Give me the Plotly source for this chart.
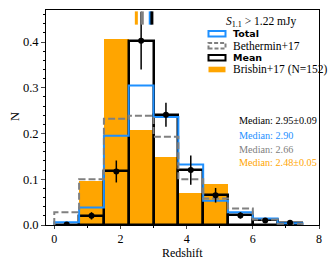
import plotly.graph_objects as go

# ---- data ----
bin_edges = [0, 0.75, 1.5, 2.25, 3.0, 3.75, 4.5, 5.25, 6.0, 6.75, 7.5]
total_vals = [0.006, 0.038, 0.195, 0.305, 0.236, 0.132, 0.053, 0.028, 0.014, 0.004]
bethermin_vals = [0.028, 0.100, 0.232, 0.239, 0.193, 0.100, 0.058, 0.036, 0.012, 0.003]
mean_vals = [0.001, 0.020, 0.117, 0.403, 0.241, 0.120, 0.065, 0.021, 0.010, 0.005]
mean_err = [0.001, 0.008, 0.024, 0.063, 0.026, 0.032, 0.016, 0.007, 0.004, 0.002]
brisbin_vals = [0.0, 0.097, 0.407, 0.208, 0.149, 0.071, 0.089, 0.0, 0.0, 0.0]

median_labels = ["Median: 2.95\u00b10.09", "Median: 2.90", "Median: 2.66", "Median: 2.48\u00b10.05"]
median_values = [2.95, 2.90, 2.66, 2.48]
median_colors = ["black", "#1E90FF", "#808080", "#FFA500"]

legend_labels = ["Total", "Bethermin+17", "Mean", "Brisbin+17 (N=152)"]

BLUE = "#1E90FF"
GREY = "#808080"
ORANGE = "#FFA500"
SERIF = "Liberation Serif, Times New Roman, serif"
SANS = "DejaVu Sans, sans-serif"

centers = [(bin_edges[i] + bin_edges[i + 1]) / 2 for i in range(len(bin_edges) - 1)]
width = bin_edges[1] - bin_edges[0]


def step_xy(vals):
    xs = [bin_edges[0]] + bin_edges[:-1] + [bin_edges[-1]]
    ys = [0] + list(vals) + [0]
    return xs, ys


fig = go.Figure()

# Brisbin filled bars
fig.add_trace(go.Bar(x=centers, y=brisbin_vals, width=width,
                     marker=dict(color=ORANGE, line=dict(width=0)), showlegend=False))

# Total step
sx, sy = step_xy(total_vals)
fig.add_trace(go.Scatter(x=sx, y=sy, mode="lines", line=dict(color=BLUE, width=2, shape="hv"),
                         showlegend=False))
# Bethermin step dashed
sx, sy = step_xy(bethermin_vals)
fig.add_trace(go.Scatter(x=sx, y=sy, mode="lines",
                         line=dict(color=GREY, width=2, shape="hv", dash="7px,3px"),
                         showlegend=False))
# Mean outlined bars
fig.add_trace(go.Bar(x=centers, y=mean_vals, width=width,
                     marker=dict(color="rgba(0,0,0,0)", line=dict(color="black", width=2.5)),
                     showlegend=False))
# Mean points with errors
fig.add_trace(go.Scatter(x=centers, y=mean_vals, mode="markers",
                         marker=dict(color="black", size=6),
                         error_y=dict(type="data", array=mean_err, color="black", thickness=1.5, width=0),
                         showlegend=False))

# median ticks at top
for v, c in zip(median_values[::-1], median_colors[::-1]):
    fig.add_shape(type="line", xref="x", yref="y", x0=v, x1=v, y0=0.438, y1=0.467,
                  line=dict(color=c, width=3), layer="above")

# manual legend
L, R, T, B = 46, 319, 10, 225
def px(xp):
    return (xp - L) / (R - L)
def py(yp):
    return (B - yp) / (B - T)

fig.add_annotation(x=px(260.5), y=py(22), xref="paper", yref="paper",
                   text="<i>S</i><sub>1.1</sub> > 1.22 mJy", showarrow=False,
                   font=dict(family=SERIF, size=11.5, color="black"), xanchor="center", yanchor="middle")

rows = [33.8, 45.8, 57.8, 69.5]
handle_styles = [
    dict(line=dict(color=BLUE, width=2), fillcolor="white"),
    dict(line=dict(color=GREY, width=2, dash="4px,2px"), fillcolor="rgba(0,0,0,0)"),
    dict(line=dict(color="black", width=2), fillcolor="white"),
    dict(line=dict(color=ORANGE, width=0), fillcolor=ORANGE),
]
for i, (lab, ry) in enumerate(zip(legend_labels, rows)):
    fig.add_shape(type="rect", xref="paper", yref="paper",
                  x0=px(208.5), x1=px(225.5), y0=py(ry + 2.8), y1=py(ry - 2.8), **handle_styles[i])
    bold = lab in ("Total", "Mean")
    fig.add_annotation(x=px(230.5), y=py(ry), xref="paper", yref="paper",
                       text=("<b>%s</b>" % lab) if bold else lab, showarrow=False,
                       font=dict(family=SANS if bold else SERIF, size=9.5 if bold else 11.5, color="black"),
                       xanchor="left", yanchor="middle")

# median texts
for lab, c, ry in zip(median_labels, median_colors, [120, 135, 149.3, 162.7]):
    fig.add_annotation(x=px(236.5), y=py(ry), xref="paper", yref="paper", text=lab, showarrow=False,
                       font=dict(family=SERIF, size=10.2, color=c), xanchor="left", yanchor="middle")

# axis titles
fig.add_annotation(x=px(182.5), y=py(252.5), xref="paper", yref="paper", text="Redshift", showarrow=False,
                   font=dict(family=SERIF, size=12, color="black"), xanchor="center", yanchor="middle")
fig.add_annotation(x=px(15), y=py(117), xref="paper", yref="paper", text="N", showarrow=False, textangle=-90,
                   font=dict(family=SERIF, size=12.5, color="black"), xanchor="center", yanchor="middle")

fig.update_layout(
    width=333, height=262,
    margin=dict(l=L, r=333 - R, t=T, b=262 - B, autoexpand=False),
    paper_bgcolor="white", plot_bgcolor="white",
    barmode="overlay", bargap=0, showlegend=False,
    font=dict(family=SERIF, size=12, color="black"),
)
fig.update_xaxes(range=[-0.25, 8], tickvals=[0, 2, 4, 6, 8], ticks="outside", ticklen=3, tickwidth=1,
                 minor=dict(dtick=1, ticks="outside", ticklen=2, tickcolor="black"),
                 showline=True, linecolor="black", linewidth=1, mirror=True, showgrid=False, zeroline=False,
                 automargin=False, tickfont=dict(family=SERIF, size=12))
fig.update_yaxes(range=[0, 0.47], tickvals=[0, 0.1, 0.2, 0.3, 0.4], tickformat=".1f",
                 ticks="outside", ticklen=4, tickwidth=1,
                 minor=dict(dtick=0.02, ticks="outside", ticklen=2.5, tickcolor="black"),
                 showline=True, linecolor="black", linewidth=1, mirror=True, showgrid=False, zeroline=False,
                 automargin=False, tickfont=dict(family=SERIF, size=12.5))

fig.write_html("out.html", config={"displayModeBar": False},
               post_script="document.body.style.margin='0';document.body.style.overflow='hidden';")
